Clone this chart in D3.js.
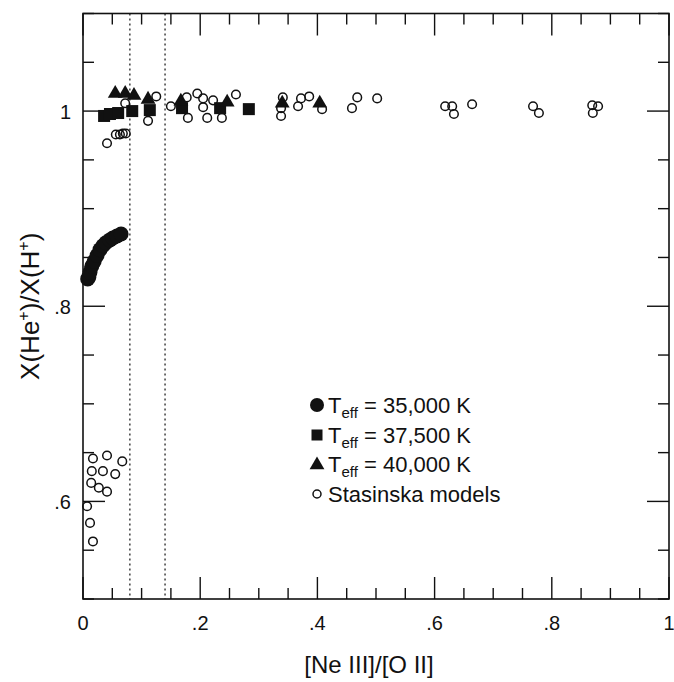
<!DOCTYPE html>
<html><head><meta charset="utf-8">
<script src="https://cdn.jsdelivr.net/npm/d3@7"></script>
<style>body{margin:0;background:#fff}svg{display:block}text{font-family:"Liberation Sans",Arial,Helvetica,sans-serif;fill:#111}</style>
</head><body>
<script>
// ---- data ----
const t35x = [0.008,0.010,0.012,0.015,0.019,0.024,0.029,0.034,0.039,0.046,0.051,0.058,0.065];
const t35y = [0.828,0.830,0.835,0.841,0.846,0.852,0.858,0.862,0.865,0.868,0.870,0.872,0.874];
const t375x = [0.036,0.046,0.060,0.084,0.114,0.169,0.234,0.283];
const t375y = [0.995,0.997,0.998,1.000,1.001,1.003,1.003,1.002];
const t40x = [0.055,0.072,0.087,0.111,0.167,0.246,0.340,0.404];
const t40y = [1.018,1.018,1.016,1.012,1.010,1.009,1.008,1.008];
const stasX = [0.072,0.041,0.056,0.063,0.068,0.073,0.125,0.111,0.150,0.177,0.179,0.195,0.205,0.205,0.212,0.222,0.237,0.261,
  0.341,0.338,0.338,0.372,0.367,0.386,0.408,0.468,0.459,0.502,0.618,0.630,0.633,0.664,0.768,0.778,0.869,0.879,0.870,
  0.017,0.041,0.067,0.015,0.034,0.055,0.014,0.027,0.041,0.007,0.012,0.017];
const stasY = [1.008,0.967,0.976,0.976,0.977,0.977,1.015,0.990,1.005,1.014,0.993,1.018,1.013,1.004,0.993,1.011,0.993,1.017,
  1.014,1.003,0.995,1.013,1.005,1.015,1.002,1.014,1.003,1.013,1.005,1.005,0.997,1.007,1.005,0.998,1.006,1.005,0.998,
  0.644,0.647,0.641,0.631,0.631,0.628,0.619,0.614,0.610,0.595,0.578,0.559];
const dottedX = [0.08, 0.14];
const xTickVals = [0,0.2,0.4,0.6,0.8,1];
const xTickLabels = ["0",".2",".4",".6",".8","1"];
const yTickVals = [0.6,0.8,1];
const yTickLabels = [".6",".8","1"];
const legendLabels = ["35,000 K","37,500 K","40,000 K","Stasinska models"];

const W=674,H=682;
const L=83,R=669,T=13.5,B=599;
const svg=d3.select("body").append("svg").attr("width",W).attr("height",H);
const x=d3.scaleLinear().domain([0,1]).range([L,R]);
const y=d3.scaleLinear().domain([0.5,1.1]).range([B,T]);

// dotted lines
svg.selectAll("line.dot").data(dottedX).join("line")
  .attr("x1",d=>x(d)).attr("x2",d=>x(d)).attr("y1",T).attr("y2",B)
  .attr("stroke","#111").attr("stroke-width",1.2).attr("stroke-dasharray","2,3");

// frame
svg.append("rect").attr("x",L).attr("y",T).attr("width",R-L).attr("height",B-T)
  .attr("fill","none").attr("stroke","#111").attr("stroke-width",1.6);

// ticks
const xMinor=d3.range(0,1.0001,0.05), yMinor=d3.range(0.5,1.1001,0.05);
const isMajorX=v=>xTickVals.some(t=>Math.abs(t-v)<1e-6);
const isMajorY=v=>yTickVals.some(t=>Math.abs(t-v)<1e-6);
const g=svg.append("g").attr("stroke","#111").attr("stroke-width",1.4);
xMinor.forEach(v=>{const len=isMajorX(v)?22:11;
  g.append("line").attr("x1",x(v)).attr("x2",x(v)).attr("y1",B).attr("y2",B-len);
  g.append("line").attr("x1",x(v)).attr("x2",x(v)).attr("y1",T).attr("y2",T+len);});
yMinor.forEach(v=>{const len=isMajorY(v)?22:11;
  g.append("line").attr("y1",y(v)).attr("y2",y(v)).attr("x1",L).attr("x2",L+len);
  g.append("line").attr("y1",y(v)).attr("y2",y(v)).attr("x1",R).attr("x2",R-len);});

// tick labels
svg.selectAll("text.xt").data(xTickVals).join("text")
  .attr("x",d=>x(d)).attr("y",630).attr("text-anchor","middle").attr("font-size",20)
  .text((d,i)=>xTickLabels[i]);
svg.selectAll("text.yt").data(yTickVals).join("text")
  .attr("x",71).attr("y",d=>y(d)+8).attr("text-anchor","end").attr("font-size",20)
  .text((d,i)=>yTickLabels[i]);

// axis titles
svg.append("text").attr("x",(L+R)/2-7).attr("y",673).attr("text-anchor","middle")
  .attr("font-size",24).text("[Ne III]/[O II]");
const yt=svg.append("text").attr("transform",`translate(39,${(T+B)/2}) rotate(-90)`)
  .attr("text-anchor","middle").attr("font-size",26);
yt.append("tspan").text("X(He");
yt.append("tspan").attr("dy",-10).attr("font-size",16).text("+");
yt.append("tspan").attr("dy",10).text(")/X(H");
yt.append("tspan").attr("dy",-10).attr("font-size",16).text("+");
yt.append("tspan").attr("dy",10).text(")");

// data marks
const stas=stasX.map((v,i)=>[v,stasY[i]]);
svg.append("g").selectAll("circle").data(stas).join("circle")
  .attr("cx",d=>x(d[0])).attr("cy",d=>y(d[1])).attr("r",4.3)
  .attr("fill","none").attr("stroke","#111").attr("stroke-width",1.5);
const sq=t375x.map((v,i)=>[v,t375y[i]]);
svg.append("g").selectAll("rect").data(sq).join("rect")
  .attr("x",d=>x(d[0])-6).attr("y",d=>y(d[1])-6).attr("width",12).attr("height",12).attr("fill","#111");
const tri=t40x.map((v,i)=>[v,t40y[i]]);
const triSym=d3.symbol().type(d3.symbolTriangle).size(95);
svg.append("g").selectAll("path").data(tri).join("path")
  .attr("transform",d=>`translate(${x(d[0])},${y(d[1])})`).attr("d",triSym).attr("fill","#111");
const c35=t35x.map((v,i)=>[v,t35y[i]]);
svg.append("g").selectAll("circle").data(c35).join("circle")
  .attr("cx",d=>x(d[0])).attr("cy",d=>y(d[1])).attr("r",7.5).attr("fill","#111");

// legend
const lx=317, ly=[405,435,464,494];
const lg=svg.append("g");
lg.append("circle").attr("cx",lx).attr("cy",ly[0]).attr("r",7).attr("fill","#111");
lg.append("rect").attr("x",lx-5.5).attr("y",ly[1]-5.5).attr("width",11).attr("height",11).attr("fill","#111");
lg.append("path").attr("transform",`translate(${lx},${ly[2]+1})`).attr("d",triSym).attr("fill","#111");
lg.append("circle").attr("cx",lx).attr("cy",ly[3]).attr("r",4).attr("fill","none").attr("stroke","#111").attr("stroke-width",1.5);
legendLabels.forEach((s,i)=>{
  const t=lg.append("text").attr("x",328).attr("y",ly[i]+8).attr("font-size",22);
  if(i<3){
    t.append("tspan").text("T");
    t.append("tspan").attr("font-size",15).attr("dy",5).text("eff");
    t.append("tspan").attr("dy",-5).text(" = "+s);
  } else t.text(s);
});
</script>
</body></html>
